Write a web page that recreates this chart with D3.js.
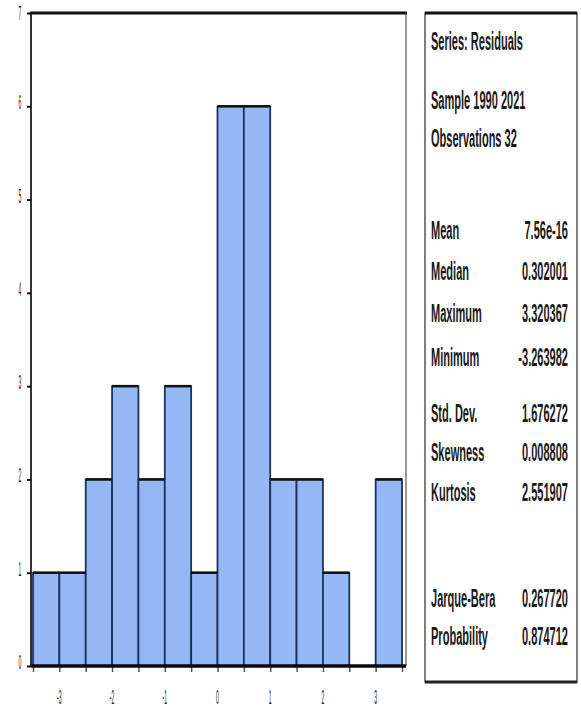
<!DOCTYPE html>
<html>
<head>
<meta charset="utf-8">
<script src="https://cdn.jsdelivr.net/npm/d3@7"></script>
<style>
	body { margin: 0; background: #fff; }
	svg { display: block; font-family: "Liberation Sans", Arial, sans-serif; }
</style>
</head>
<body>
<svg id="chart" width="581" height="711"></svg>
<script>
// histogram bins (bin start, width 0.5) and counts
var binStarts = [-3.5, -3.0, -2.5, -2.0, -1.5, -1.0, -0.5, 0.0, 0.5, 1.0, 1.5, 2.0, 2.5, 3.0];
var binCounts = [1, 1, 2, 3, 2, 3, 1, 6, 6, 2, 2, 1, 0, 2];
var binWidth = 0.5;
var xTickLabels = [-3, -2, -1, 0, 1, 2, 3];
var yTickLabels = [0, 1, 2, 3, 4, 5, 6, 7];

// stats panel
var headerLines = ["Series: Residuals", "Sample 1990 2021", "Observations 32"];
var statNames = ["Mean", "Median", "Maximum", "Minimum", "Std. Dev.", "Skewness", "Kurtosis"];
var statValues = ["7.56e-16", "0.302001", "3.320367", "-3.263982", "1.676272", "0.008808", "2.551907"];
var jbNames = ["Jarque-Bera", "Probability"];
var jbValues = ["0.267720", "0.874712"];

var chart = {
	plot: {left: 31, right: 406, top: 13, bottom: 666},
	panel: {left: 425, right: 577, top: 13, bottom: 682},
	squeeze: "scale(0.42,1.75)",
	stretch: "scale(0.92,2.1)",

	draw: function(){
		var self = this;
		var svg = d3.select("#chart");
		var p = self.plot;

		var x = d3.scaleLinear().domain([-3.5, 3.5]).range([33, 402]);
		var y = d3.scaleLinear().domain([0, 7]).range([p.bottom, p.top]);

		//Bars
		svg.append("g").selectAll("rect")
			.data(binStarts)
			.enter().append("rect")
			.attr("x", function(d){ return x(d); })
			.attr("y", function(d, i){ return y(binCounts[i]); })
			.attr("width", function(d){ return x(d + binWidth) - x(d); })
			.attr("height", function(d, i){ return y(0) - y(binCounts[i]); })
			.attr("fill", "#93b8f4")
			.attr("stroke", "#1d3260")
			.attr("stroke-width", 1.8);

		//Tops of the bars in black
		svg.append("g").selectAll("line")
			.data(binStarts.filter(function(d, i){ return binCounts[i] > 0; }))
			.enter().append("line")
			.attr("x1", function(d){ return x(d); })
			.attr("x2", function(d){ return x(d + binWidth); })
			.attr("y1", function(d){ return y(binCounts[binStarts.indexOf(d)]); })
			.attr("y2", function(d){ return y(binCounts[binStarts.indexOf(d)]); })
			.attr("stroke", "#111")
			.attr("stroke-width", 2.5);

		//Frame
		svg.append("line").attr("x1", p.left).attr("x2", p.left).attr("y1", p.top).attr("y2", p.bottom)
			.attr("stroke", "#333").attr("stroke-width", 2);
		svg.append("line").attr("x1", p.right).attr("x2", p.right).attr("y1", p.top).attr("y2", p.bottom)
			.attr("stroke", "#777").attr("stroke-width", 1.5);
		svg.append("line").attr("x1", p.left - 1).attr("x2", p.right + 1).attr("y1", p.top).attr("y2", p.top)
			.attr("stroke", "#111").attr("stroke-width", 3);

		//Y axis
		var yAxis = d3.axisLeft(y).tickValues(yTickLabels).tickSize(4).tickFormat("");
		var yg = svg.append("g")
			.attr("transform", "translate(" + p.left + ",0)")
			.call(yAxis);
		yg.select(".domain").remove();
		yg.selectAll(".tick line").attr("stroke", "#111").attr("stroke-width", 2);

		//Keep the top label inside the picture
		svg.append("g").selectAll("text")
			.data(yTickLabels)
			.enter().append("text")
			.attr("transform", function(d){
				return "translate(20," + Math.max(y(d) + 3, 20) + ")" + self.squeeze;
			})
			.attr("text-anchor", "middle")
			.attr("font-size", 12)
			.attr("fill", "#222")
			.text(function(d){ return d; });

		//X axis
		var edges = binStarts.concat([binStarts[binStarts.length - 1] + binWidth]);
		var xAxis = d3.axisBottom(x).tickValues(edges).tickSize(6).tickFormat("");
		var xg = svg.append("g")
			.attr("transform", "translate(0," + p.bottom + ")")
			.call(xAxis);
		xg.select(".domain").remove();
		xg.selectAll(".tick line").attr("stroke", "#555").attr("stroke-width", 1.5);

		svg.append("line").attr("x1", p.left).attr("x2", p.right).attr("y1", p.bottom).attr("y2", p.bottom)
			.attr("stroke", "#0a0a14").attr("stroke-width", 3.5);

		svg.append("g").selectAll("text")
			.data(xTickLabels)
			.enter().append("text")
			.attr("transform", function(d){
				return "translate(" + x(d) + ",704)" + self.squeeze;
			})
			.attr("text-anchor", "middle")
			.attr("font-size", 12)
			.attr("fill", "#222")
			.text(function(d){ return d; });

		self.drawPanel(svg);
	},

	drawPanel: function(svg){
		var self = this;
		var q = self.panel;

		svg.append("rect")
			.attr("x", q.left).attr("y", q.top)
			.attr("width", q.right - q.left).attr("height", q.bottom - q.top)
			.attr("fill", "#fff").attr("stroke", "#555").attr("stroke-width", 1.5);
		svg.append("line").attr("x1", q.left).attr("x2", q.right).attr("y1", q.top).attr("y2", q.top)
			.attr("stroke", "#111").attr("stroke-width", 3);
		svg.append("line").attr("x1", q.left).attr("x2", q.right).attr("y1", q.bottom).attr("y2", q.bottom)
			.attr("stroke", "#222").attr("stroke-width", 3);

		var headerY = [41, 100, 138];
		var statY = [230, 271, 313, 357, 413, 452, 492];
		var jbY = [598, 636];

		function rows(names, values, ys){
			var g = svg.append("g");
			g.selectAll("text.name")
				.data(names)
				.enter().append("text")
				.attr("class", "name")
				.attr("transform", function(d, i){ return "translate(431," + (ys[i] + 9) + ")" + self.stretch; })
				.attr("font-size", 12)
				.attr("font-weight", "bold")
				.attr("fill", "#1a1a1a")
				.text(function(d){ return d; });
			if (!values) return;
			g.selectAll("text.val")
				.data(values)
				.enter().append("text")
				.attr("class", "val")
				.attr("transform", function(d, i){ return "translate(568," + (ys[i] + 9) + ")" + self.stretch; })
				.attr("text-anchor", "end")
				.attr("font-size", 12)
				.attr("font-weight", "bold")
				.attr("fill", "#1a1a1a")
				.text(function(d){ return d; });
		}

		rows(headerLines, null, headerY);
		rows(statNames, statValues, statY);
		rows(jbNames, jbValues, jbY);
	}
};

chart.draw();
</script>
</body>
</html>
